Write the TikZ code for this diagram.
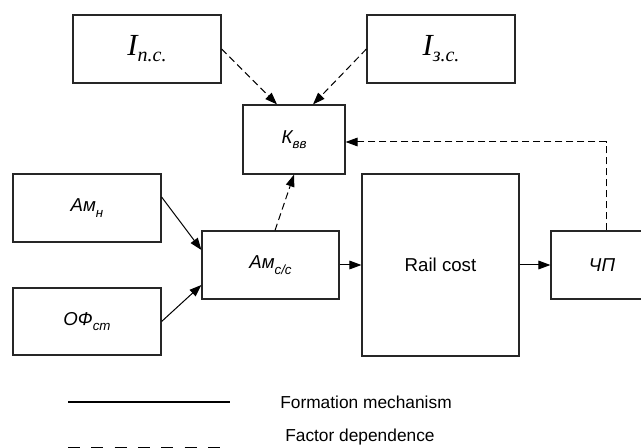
\documentclass[tikz,border=0pt]{standalone}
\usepackage{fontspec}
\setmainfont{Liberation Sans}
\newfontfamily\timesfont{Liberation Serif}
\usetikzlibrary{arrows.meta, positioning, calc}
\newcommand{\lowsub}[1]{\raisebox{-0.3em}{\fontsize{10}{11}\selectfont #1}}
\newcommand{\bigsub}[1]{\raisebox{-0.2em}{\fontsize{15}{17}\selectfont #1}}

\begin{document}
\begin{tikzpicture}[x=0.75pt, y=-0.75pt,
    box/.style={draw=black!85, line width=0.9pt, rectangle, inner sep=0pt, font=\fontsize{14}{16}\selectfont\itshape},
    mech/.style={-{Triangle[length=9pt, width=6.5pt]}, line width=0.75pt},
    dep/.style={mech, dash pattern=on 5.25pt off 3pt},
    legend/.style={anchor=west, inner sep=0pt, font=\fontsize{13}{15}\selectfont}]
\clip (0,0) rectangle (641,448);
\node[box, minimum width=111pt, minimum height=51pt] (inc) at (147,49) {\timesfont\fontsize{23}{26}\selectfont I\bigsub{п.с.}};
\node[box, minimum width=111pt, minimum height=51pt] (izc) at (441,49) {\timesfont\fontsize{23}{26}\selectfont I\bigsub{з.с.}};
\node[box, minimum width=76.5pt, minimum height=51.75pt] (kvv) at (294,139.5) {К\lowsub{вв}};
\node[box, minimum width=111pt, minimum height=51pt] (amn) at (87,208) {Ам\lowsub{н}};
\node[box, minimum width=111pt, minimum height=50.25pt] (ofst) at (87,321.5) {ОФ\lowsub{ст}};
\node[box, minimum width=102.75pt, minimum height=51pt] (amcc) at (270.5,265) {Ам\lowsub{с/с}};
\node[box, minimum width=117.75pt, minimum height=136.5pt, font=\fontsize{14}{16}\selectfont] (rail) at (440.5,265) {Rail cost};
\node[box, minimum width=76.5pt, minimum height=51pt] (chp) at (602,265) {ЧП};

\draw[dep] (inc.east) -- ($(kvv.north)+(-17,0)$);
\draw[dep] (izc.west) -- ($(kvv.north)+(19,0)$);
\draw[dep] ($(amcc.north)+(4.5,0)$) -- (kvv.south);
\draw[dep] ($(chp.north)+(4,0)$) |- ($(kvv.east)+(0,2.5)$);
\draw[mech] ($(amn.east)+(0,-11)$) -- ($(amcc.west)+(0,-15)$);
\draw[mech] (ofst.east) -- ($(amcc.west)+(0,20)$);
\draw[mech] (amcc) -- (rail);
\draw[mech] (rail) -- (chp);

\coordinate (solida) at (68,402);
\coordinate (solidb) at (230,402);
\coordinate (dasha) at (68,448.5);
\coordinate (dashb) at (220,448.5);
\draw[line width=1.6pt] (solida) -- (solidb);
\draw[line width=1.6pt, dash pattern=on 9pt off 8.5pt] (dasha) -- (dashb);
\node[legend] (mechtext) at (280,402) {Formation mechanism};
\node[legend] (deptext) at (285,437) {Factor dependence};
\end{tikzpicture}
\end{document}
